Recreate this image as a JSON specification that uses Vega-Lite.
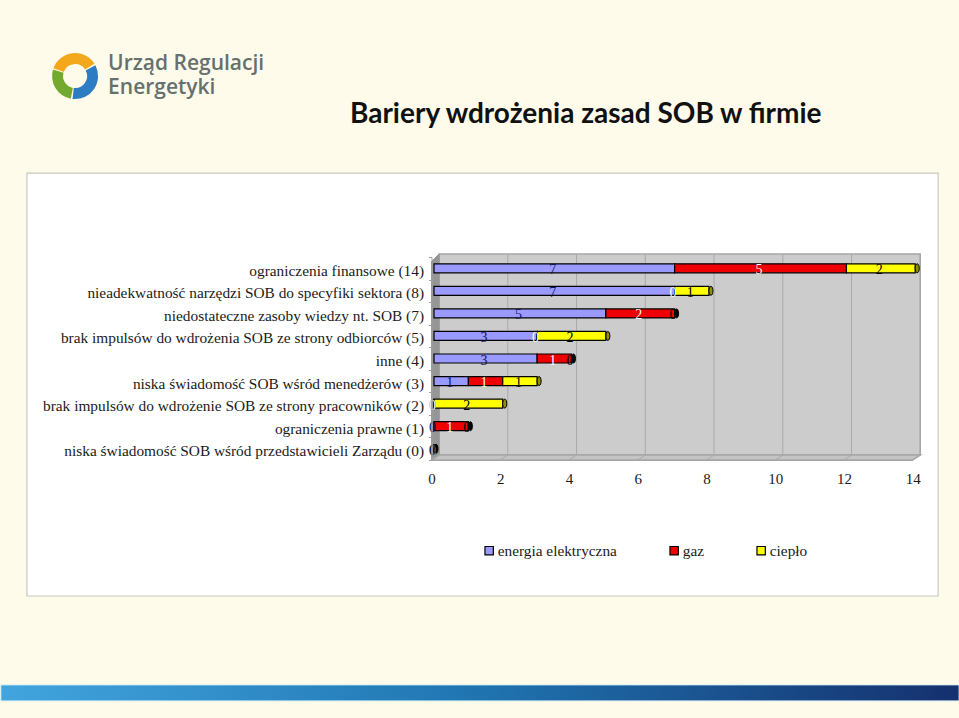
{
"$schema":"https://vega.github.io/schema/vega-lite/v6.json",
"autosize":{"type":"none"},
"width":481.2,"height":203,
"padding":{"left":431.5,"top":257,"right":46.3,"bottom":258},
"background":"#fffbea",
"title":{"text":"Bariery wdrożenia zasad SOB w firmie","anchor":"start","frame":"group","dx":-81.5,"offset":-76,"font":"Lato","fontWeight":"bold","fontSize":28,"color":"#111111"},
"config":{"view":{"stroke":null}},
"datasets":{
"wiersze":[
{"kat":"ograniczenia finansowe (14)","seria":"energia elektryczna","k":1,"wartosc":7},
{"kat":"ograniczenia finansowe (14)","seria":"gaz","k":2,"wartosc":5},
{"kat":"ograniczenia finansowe (14)","seria":"ciepło","k":3,"wartosc":2},
{"kat":"nieadekwatność narzędzi SOB do specyfiki sektora (8)","seria":"energia elektryczna","k":1,"wartosc":7},
{"kat":"nieadekwatność narzędzi SOB do specyfiki sektora (8)","seria":"gaz","k":2,"wartosc":0},
{"kat":"nieadekwatność narzędzi SOB do specyfiki sektora (8)","seria":"ciepło","k":3,"wartosc":1},
{"kat":"niedostateczne zasoby wiedzy nt. SOB (7)","seria":"energia elektryczna","k":1,"wartosc":5},
{"kat":"niedostateczne zasoby wiedzy nt. SOB (7)","seria":"gaz","k":2,"wartosc":2},
{"kat":"niedostateczne zasoby wiedzy nt. SOB (7)","seria":"ciepło","k":3,"wartosc":0},
{"kat":"brak impulsów do wdrożenia SOB ze strony odbiorców (5)","seria":"energia elektryczna","k":1,"wartosc":3},
{"kat":"brak impulsów do wdrożenia SOB ze strony odbiorców (5)","seria":"gaz","k":2,"wartosc":0},
{"kat":"brak impulsów do wdrożenia SOB ze strony odbiorców (5)","seria":"ciepło","k":3,"wartosc":2},
{"kat":"inne (4)","seria":"energia elektryczna","k":1,"wartosc":3},
{"kat":"inne (4)","seria":"gaz","k":2,"wartosc":1},
{"kat":"inne (4)","seria":"ciepło","k":3,"wartosc":0},
{"kat":"niska świadomość SOB wśród menedżerów (3)","seria":"energia elektryczna","k":1,"wartosc":1},
{"kat":"niska świadomość SOB wśród menedżerów (3)","seria":"gaz","k":2,"wartosc":1},
{"kat":"niska świadomość SOB wśród menedżerów (3)","seria":"ciepło","k":3,"wartosc":1},
{"kat":"brak impulsów do wdrożenie SOB ze strony pracowników (2)","seria":"energia elektryczna","k":1,"wartosc":0},
{"kat":"brak impulsów do wdrożenie SOB ze strony pracowników (2)","seria":"gaz","k":2,"wartosc":0},
{"kat":"brak impulsów do wdrożenie SOB ze strony pracowników (2)","seria":"ciepło","k":3,"wartosc":2},
{"kat":"ograniczenia prawne (1)","seria":"energia elektryczna","k":1,"wartosc":0},
{"kat":"ograniczenia prawne (1)","seria":"gaz","k":2,"wartosc":1},
{"kat":"ograniczenia prawne (1)","seria":"ciepło","k":3,"wartosc":0},
{"kat":"niska świadomość SOB wśród przedstawicieli Zarządu (0)","seria":"energia elektryczna","k":1,"wartosc":0},
{"kat":"niska świadomość SOB wśród przedstawicieli Zarządu (0)","seria":"gaz","k":2,"wartosc":0},
{"kat":"niska świadomość SOB wśród przedstawicieli Zarządu (0)","seria":"ciepło","k":3,"wartosc":0}
],
"panel":[{"x0":-11.77,"x1":14.74,"y0":-6.03,"y1":12.72}],
"pasek":[{"x0":-12.53,"x1":15.35,"y0":-10.68,"y1":-9.97}],
"sciana":[{"x0":0.22,"x1":14.22,"y0":0.22,"y1":9.13}],
"lewa":[{"x":0,"y":0,"y2":8.8},{"x":0.22,"y":0.22,"y2":9.13}],
"podloga":[{"x":0,"y":0,"y2":0},{"x":0.22,"y":0,"y2":0.22},{"x":14,"y":0,"y2":0.22},{"x":14.22,"y":0.22,"y2":0.22}],
"siatka":[{"x":2,"xb":2.22},{"x":4,"xb":4.22},{"x":6,"xb":6.22},{"x":8,"xb":8.22},{"x":10,"xb":10.22},{"x":12,"xb":12.22},{"x":14,"xb":14.22}],
"logo":[{"s":"a","a":-1.22,"b":1.0,"x":-10.37,"y":17.02},{"s":"b","a":1.08,"b":3.25,"x":-10.37,"y":17.02},{"s":"c","a":3.33,"b":5.0,"x":-10.37,"y":17.02}],
"napisy":[{"t":"Urząd Regulacji","x":-9.41,"y":17.56},{"t":"Energetyki","x":-9.41,"y":16.49}]
},
"resolve":{"scale":{"x":"independent","y":"independent","color":"independent"}},
"layer":[
{"data":{"name":"panel"},"mark":{"type":"rect","fill":"#ffffff","stroke":"#c9c9c0","strokeWidth":1.2,"clip":false},
 "encoding":{"x":{"field":"x0","type":"quantitative","axis":null,"scale":{"domain":[0,14]}},"x2":{"field":"x1"},"y":{"field":"y0","type":"quantitative","scale":{"domain":[0,9]},"axis":null},"y2":{"field":"y1"}}},
{"data":{"name":"pasek"},"mark":{"type":"rect","stroke":"#d8eef5","strokeWidth":1,"fill":{"x1":0,"y1":0,"x2":1,"y2":0,"gradient":"linear","stops":[{"offset":0,"color":"#42a5de"},{"offset":0.5,"color":"#1f74b0"},{"offset":1,"color":"#15306e"}]}},
 "encoding":{"x":{"field":"x0","type":"quantitative","axis":null,"scale":{"domain":[0,14]}},"x2":{"field":"x1"},"y":{"field":"y0","type":"quantitative","scale":{"domain":[0,9]},"axis":null},"y2":{"field":"y1"}}},
{"data":{"name":"logo"},"mark":{"type":"arc","innerRadius":12,"outerRadius":23},
 "encoding":{"x":{"field":"x","type":"quantitative","axis":null,"scale":{"domain":[0,14]}},"y":{"field":"y","type":"quantitative","scale":{"domain":[0,9]},"axis":null},"theta":{"field":"a","type":"quantitative","scale":null},"theta2":{"field":"b"},
 "color":{"field":"s","type":"nominal","legend":null,"scale":{"domain":["a","b","c"],"range":["#f3a81c","#2b7cc2","#73aa2e"]}}}},
{"data":{"name":"napisy"},"mark":{"type":"text","align":"left","baseline":"middle","font":"Open Sans","fontSize":21,"fontWeight":600,"fill":"#66706f"},
 "encoding":{"x":{"field":"x","type":"quantitative","axis":null,"scale":{"domain":[0,14]}},"y":{"field":"y","type":"quantitative","scale":{"domain":[0,9]},"axis":null},"text":{"field":"t"}}},
{"data":{"name":"sciana"},"mark":{"type":"rect","fill":"#cccccc","stroke":"#a6a6a6","strokeWidth":1.5},
 "encoding":{"x":{"field":"x0","type":"quantitative","axis":null,"scale":{"domain":[0,14]}},"x2":{"field":"x1"},"y":{"field":"y0","type":"quantitative","scale":{"domain":[0,9]},"axis":null},"y2":{"field":"y1"}}},
{"data":{"name":"lewa"},"mark":{"type":"area","orient":"vertical","fill":"#969696","stroke":"#969696","strokeWidth":1},
 "encoding":{"x":{"field":"x","type":"quantitative","axis":null,"scale":{"domain":[0,14]}},"y":{"field":"y","type":"quantitative","scale":{"domain":[0,9]},"axis":null},"y2":{"field":"y2"}}},
{"data":{"name":"podloga"},"mark":{"type":"area","orient":"vertical","fill":"#c4c4c4","stroke":"#a6a6a6","strokeWidth":1.5},
 "encoding":{"x":{"field":"x","type":"quantitative","axis":null,"scale":{"domain":[0,14]}},"y":{"field":"y","type":"quantitative","scale":{"domain":[0,9]},"axis":null},"y2":{"field":"y2"}}},
{"data":{"name":"siatka"},"mark":{"type":"rule","stroke":"#a9a9a9","strokeWidth":1},
 "encoding":{"x":{"field":"xb","type":"quantitative","axis":null,"scale":{"domain":[0,14]}},"y":{"datum":0.22,"scale":{"domain":[0,9]},"type":"quantitative","axis":null},"y2":{"datum":9.13}}},
{"data":{"name":"siatka"},"mark":{"type":"rule","stroke":"#a9a9a9","strokeWidth":1},
 "encoding":{"x":{"field":"x","type":"quantitative","axis":null,"scale":{"domain":[0,14]}},"x2":{"field":"xb"},"y":{"datum":0,"scale":{"domain":[0,9]},"type":"quantitative","axis":null},"y2":{"datum":0.22}}},
{"data":{"name":"wiersze"},"mark":{"type":"bar","height":9,"stroke":"#000000","strokeWidth":1.2,"xOffset":2.5,"x2Offset":2.5},
 "encoding":{
 "y":{"field":"kat","type":"nominal","sort":null,"scale":{"paddingInner":0,"paddingOuter":0},"axis":{"title":null,"orient":"left","labelFont":"Liberation Serif","labelFontSize":15.35,"labelColor":"#1a1a1a","labelLimit":420,"labelPadding":5,"labelOffset":2,"tickSize":3,"tickColor":"#a0a0a0","tickBand":"extent","domainColor":"#a0a0a0","zindex":1}},
 "x":{"field":"wartosc","type":"quantitative","stack":"zero","scale":{"domain":[0,14]},"axis":{"title":null,"orient":"bottom","values":[0,2,4,6,8,10,12,14],"grid":false,"ticks":false,"domainColor":"#a6a6a6","labelFont":"Liberation Serif","labelFontSize":15,"labelColor":"#1a1a1a","labelPadding":11,"labelFlush":false,"zindex":1}},
 "order":{"field":"k"},
 "color":{"field":"seria","type":"nominal","scale":{"domain":["energia elektryczna","gaz","ciepło"],"range":["#9999ff","#ee0000","#ffff00"]},
 "legend":{"orient":"none","direction":"horizontal","legendX":50,"legendY":286,"title":null,"labelFont":"Liberation Serif","labelFontSize":15.3,"labelColor":"#1a1a1a","symbolType":"square","symbolSize":70,"symbolStrokeColor":"#000000","symbolStrokeWidth":1.2,"labelOffset":1,"columnPadding":49}}}},
{"data":{"name":"wiersze"},
 "transform":[{"stack":"wartosc","groupby":["kat"],"sort":[{"field":"k"}],"as":["s0","s1"]},{"filter":"datum.k==3"}],
 "mark":{"type":"point","filled":true,"size":80,"shape":"M0,-1C0.6,-1 0.6,1 0,1C-0.6,1 -0.6,-1 0,-1Z","stroke":"#000000","strokeWidth":1,"xOffset":4.5,"opacity":1},
 "encoding":{"y":{"field":"kat","type":"nominal","sort":null,"scale":{"paddingInner":0,"paddingOuter":0},"axis":null},"x":{"field":"s1","type":"quantitative","axis":null,"scale":{"domain":[0,14]}},
 "fill":{"condition":{"test":"datum.wartosc>0","value":"#8f8f00"},"value":"#000000"}}},
{"data":{"name":"wiersze"},"mark":{"type":"text","font":"Liberation Serif","fontSize":14,"dy":2,"dx":1},
 "encoding":{"y":{"field":"kat","type":"nominal","sort":null,"scale":{"paddingInner":0,"paddingOuter":0},"axis":null},
 "x":{"field":"wartosc","type":"quantitative","axis":null,"stack":"zero","bandPosition":0.5,"scale":{"domain":[0,14]}},
 "order":{"field":"k"},
 "text":{"field":"wartosc","type":"quantitative"},
 "color":{"field":"seria","type":"nominal","legend":null,"scale":{"domain":["energia elektryczna","gaz","ciepło"],"range":["#14145a","#ffffff","#000000"]}}}}
]
}
